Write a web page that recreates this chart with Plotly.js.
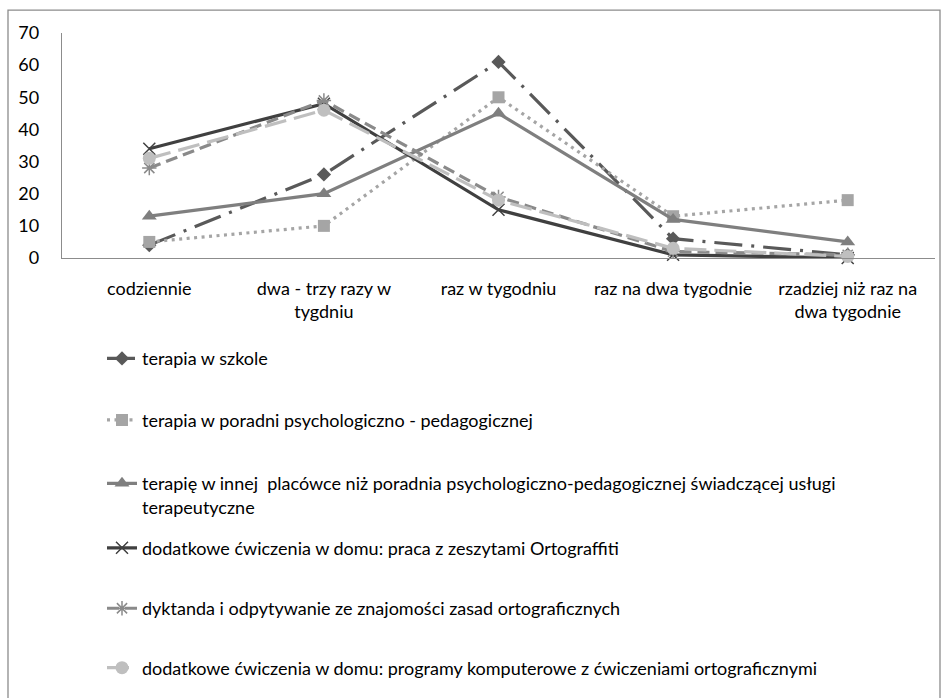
<!DOCTYPE html>
<html>
<head>
<meta charset="utf-8">
<script src="https://cdn.plot.ly/plotly-3.0.1.min.js"></script>
<style>html,body{margin:0;padding:0;background:#fff;}#chart{width:949px;height:698px;}</style>
</head>
<body>
<div id="chart"></div>
<script>
const categories = ["codziennie", "dwa - trzy razy w<br>tygdniu", "raz w tygodniu", "raz na dwa tygodnie", "rzadziej niż raz na<br>dwa tygodnie"];
const seriesNames = [
  "terapia w szkole",
  "terapia w poradni psychologiczno - pedagogicznej",
  "terapię w innej  placówce niż poradnia psychologiczno-pedagogicznej świadczącej usługi<br>terapeutyczne",
  "dodatkowe ćwiczenia w domu: praca z zeszytami Ortograffiti",
  "dyktanda i odpytywanie ze znajomości zasad ortograficznych",
  "dodatkowe ćwiczenia w domu: programy komputerowe z ćwiczeniami ortograficznymi"
];
const szkola = [4, 26, 61, 6, 1];
const poradnia = [5, 10, 50, 13, 18];
const innaPlacowka = [13, 20, 45, 12, 5];
const ortograffiti = [34, 48, 15, 1, 0];
const dyktanda = [28, 49, 19, 2, 1];
const programy = [31, 46, 18, 3, 0.5];

const values = [szkola, poradnia, innaPlacowka, ortograffiti, dyktanda, programy];
const colors = ["#595959", "#A5A5A5", "#7F7F7F", "#404040", "#8A8A8A", "#BFBFBF"];
const dashes = ["28px,9px,3px,9px", "3px,4.5px", "solid", "solid", "12px,6px", "22px,8px"];
const symbols = ["diamond", "square", "triangle-up", "x-thin-open", "asterisk-open", "circle"];
const msizes = [11, 12, 13, 12, 12, 13];

// legend entry text centres (px from top) in the picture
const legendCentres = [358, 420, 484, 549, 610, 670];
const plotBottom = 260, plotH = 227;
const legendIds = ["legend", "legend2", "legend3", "legend4", "legend5", "legend6"];

const traces = values.map((v, i) => ({
  type: "scatter",
  mode: "lines+markers",
  x: categories,
  y: v,
  name: seriesNames[i],
  legend: legendIds[i],
  line: {color: colors[i], width: 3.2, dash: dashes[i]},
  marker: {symbol: symbols[i], size: msizes[i], color: colors[i],
           line: {color: colors[i], width: (i === 3 || i === 4) ? 1.5 : 0}},
  cliponaxis: false
}));

const font = {family: "Lato, 'Liberation Sans', sans-serif", size: 18, color: "#000"};

const layout = {
  width: 949, height: 698,
  margin: {l: 62, r: 14, t: 33, b: 438},
  paper_bgcolor: "#fff", plot_bgcolor: "#fff",
  font: font,
  showlegend: true,
  xaxis: {type: "category", showgrid: false, zeroline: false, showline: true,
          linecolor: "#8c8c8c", linewidth: 1.3, ticks: "", ticklabelstandoff: 14,
          tickfont: font, range: [-0.5, 4.5], fixedrange: true},
  yaxis: {range: [0, 70], dtick: 10, showgrid: false, zeroline: false, showline: true,
          linecolor: "#8c8c8c", linewidth: 1.3, ticks: "", ticklabelstandoff: 18,
          tickfont: font, fixedrange: true},
  shapes: [{type: "rect", xref: "paper", yref: "paper",
            x0: (8 - 62) / 873, x1: (940 - 62) / 873,
            y0: (260 - 705) / 227, y1: (260 - 10) / 227,
            line: {color: "#8c8c8c", width: 1.3}, fillcolor: "rgba(0,0,0,0)", layer: "below"}]
};

legendIds.forEach((id, i) => {
  const top = legendCentres[i] - 15;
  layout[id] = {x: (102 - 62) / 873, xanchor: "left", y: (plotBottom - top) / plotH, yanchor: "top",
                orientation: "v", valign: "top", font: font, bgcolor: "rgba(0,0,0,0)"};
});

Plotly.newPlot("chart", traces, layout, {staticPlot: true, displayModeBar: false});
</script>
</body>
</html>
